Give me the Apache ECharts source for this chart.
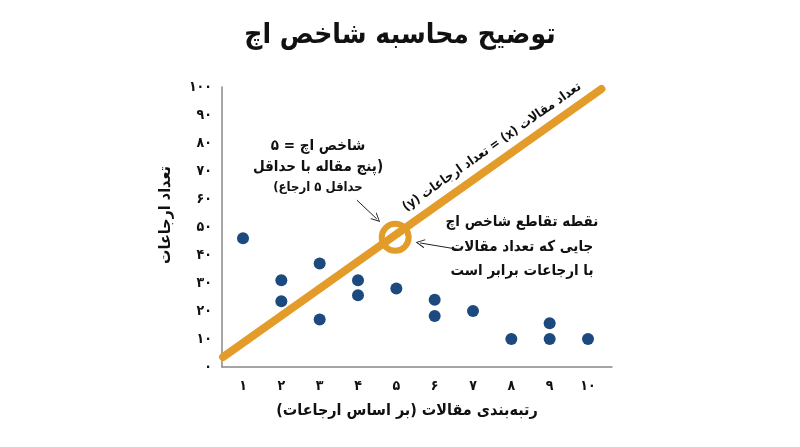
<!DOCTYPE html>
<html>
<head>
<meta charset="utf-8">
<script src="https://cdn.jsdelivr.net/npm/echarts@6/dist/echarts.min.js"></script>
<style>html,body{margin:0;padding:0;background:#fff}#c{width:800px;height:447px}</style>
</head>
<body>
<div id="c" dir="rtl"></div>
<script>
// ---- data ----
var titleText = 'توضیح محاسبه شاخص اچ';
var xName = 'رتبه‌بندی مقالات (بر اساس ارجاعات)';
var yName = 'تعداد ارجاعات';
var xTicks = [1, 2, 3, 4, 5, 6, 7, 8, 9, 10];
var pointX = [1, 2, 2, 3, 3, 4, 4, 5, 6, 6, 7, 8, 9, 9, 10];
var pointY = [46, 31, 23.5, 37, 17, 31, 25.6, 28, 24, 18.2, 20, 10, 15.6, 10, 10];
var lineX = [0.48, 10.35];
var lineY = [3.6, 99.3];
var hIndexPoint = [4.97, 46.3];
var lineLabel = 'تعداد مقالات (x) = تعداد ارجاعات (y)';
var noteLeft = ['شاخص اچ = ۵', '(پنج مقاله با حداقل', 'حداقل ۵ ارجاع)'];
var noteRight = ['نقطه تقاطع شاخص اچ', 'جایی که تعداد مقالات', 'با ارجاعات برابر است'];
var arrowLeft = [[3.97, 59.6], [4.49, 52.9]];
var arrowRight = [[6.71, 41.8], [5.62, 44.3]];

var FA = '۰۱۲۳۴۵۶۷۸۹';
function fa(v) { return String(v).replace(/\d/g, function (d) { return FA[d]; }); }

var FONT = '"DejaVu Sans Condensed", "DejaVu Sans", sans-serif';
var ORANGE = '#E39B2A';
var NAVY = '#1D4A7E';
var chevron = 'path://M5,0 L10,10 L8.8,10 L5,2.2 L1.2,10 L0,10 Z';

var chart = echarts.init(document.getElementById('c'), null, {renderer: 'canvas'});
chart.setOption({
  backgroundColor: '#fff',
  animation: false,
  textStyle: {fontFamily: FONT},
  title: {
    text: titleText, left: 'center', top: 17,
    textStyle: {fontFamily: FONT, fontSize: 28, fontWeight: 'bold', color: '#111'}
  },
  grid: {left: 222, right: 188, top: 87, bottom: 80},
  xAxis: {
    type: 'value', min: 0.452, max: 10.626,
    name: xName, nameLocation: 'middle', nameGap: 36,
    nameTextStyle: {fontFamily: FONT, fontSize: 16, fontWeight: 'bold', color: '#111', padding: [0, 20, 0, 0]},
    axisLine: {show: true, lineStyle: {color: '#888', width: 1.5}},
    axisTick: {show: false},
    splitLine: {show: false},
    axisLabel: {customValues: xTicks, formatter: fa, margin: 12, fontFamily: FONT, fontSize: 14, fontWeight: 'bold', color: '#111'}
  },
  yAxis: {
    type: 'value', min: 0, max: 100, interval: 10,
    name: yName, nameLocation: 'middle', nameGap: 48,
    nameTextStyle: {fontFamily: FONT, fontSize: 16, fontWeight: 'bold', color: '#111', padding: [0, 0, 0, 24]},
    axisLine: {show: true, lineStyle: {color: '#888', width: 1.5}},
    axisTick: {show: false},
    splitLine: {show: false},
    axisLabel: {formatter: fa, margin: 10, fontFamily: FONT, fontSize: 14, fontWeight: 'bold', color: '#111'}
  },
  series: [
    {
      type: 'line', data: lineX.map(function (x, i) { return [x, lineY[i]]; }),
      symbol: 'none', lineStyle: {color: ORANGE, width: 8, cap: 'round'}, z: 2, silent: true,
      markLine: {
        silent: true, symbol: ['none', chevron], symbolSize: [9, 9],
        lineStyle: {color: '#222', width: 1, type: 'solid'}, label: {show: false},
        data: [
          [{coord: arrowLeft[0]}, {coord: arrowLeft[1]}],
          [{coord: arrowRight[0]}, {coord: arrowRight[1]}]
        ]
      }
    },
    {
      type: 'scatter', data: [hIndexPoint], symbol: 'circle', symbolSize: 27, z: 3,
      itemStyle: {color: 'rgba(0,0,0,0)', borderColor: ORANGE, borderWidth: 6, opacity: 1}
    },
    {
      type: 'scatter', data: pointX.map(function (x, i) { return [x, pointY[i]]; }),
      symbol: 'circle', symbolSize: 12, z: 4,
      itemStyle: {color: NAVY, opacity: 1}
    }
  ],
  graphic: [
    {type: 'text', x: 492, y: 147, rotation: 35 * Math.PI / 180,
     style: {text: lineLabel, font: 'bold 13px ' + FONT, fill: '#111', align: 'center', verticalAlign: 'middle'}},
    {type: 'text', x: 318, y: 146, style: {text: noteLeft[0], font: 'bold 15px ' + FONT, fill: '#111', align: 'center', verticalAlign: 'middle'}},
    {type: 'text', x: 318, y: 167, style: {text: noteLeft[1], font: 'bold 15px ' + FONT, fill: '#111', align: 'center', verticalAlign: 'middle'}},
    {type: 'text', x: 318, y: 188, style: {text: noteLeft[2], font: 'bold 13px ' + FONT, fill: '#111', align: 'center', verticalAlign: 'middle'}},
    {type: 'text', x: 522, y: 222, style: {text: noteRight[0], font: 'bold 15px ' + FONT, fill: '#111', align: 'center', verticalAlign: 'middle'}},
    {type: 'text', x: 522, y: 247, style: {text: noteRight[1], font: 'bold 15px ' + FONT, fill: '#111', align: 'center', verticalAlign: 'middle'}},
    {type: 'text', x: 522, y: 271, style: {text: noteRight[2], font: 'bold 15px ' + FONT, fill: '#111', align: 'center', verticalAlign: 'middle'}}
  ]
});
</script>
</body>
</html>
